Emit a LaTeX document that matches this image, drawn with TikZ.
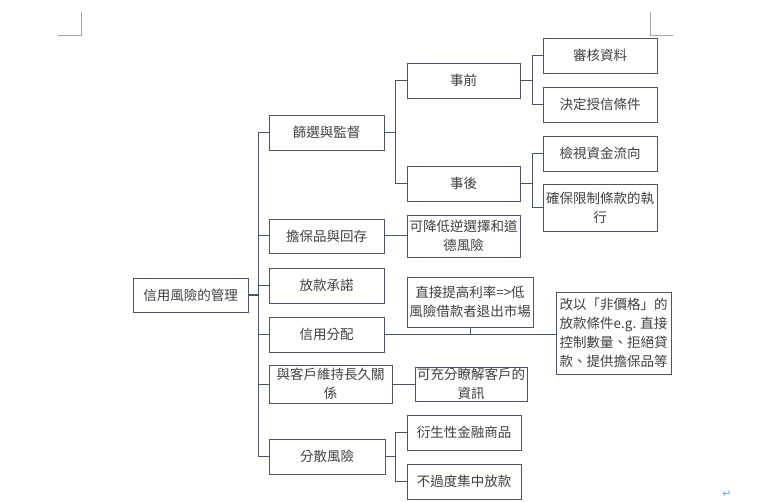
\documentclass[tikz,border=0pt]{standalone}
\usepackage{fontspec}
\setmainfont{Noto Sans CJK TC}
\newfontfamily\symfont{DejaVu Sans}
\definecolor{lineC}{HTML}{4B5567}
\definecolor{txtC}{HTML}{404040}
\definecolor{markC}{HTML}{A6A6A6}
\definecolor{retC}{HTML}{6FA8DC}
\tikzset{
  bx/.style={draw=lineC, line width=0.9bp, fill=white, inner sep=0pt, align=center,
             text=txtC, font=\fontsize{13.5bp}{19bp}\selectfont},
  conn/.style={draw=lineC, line width=1bp},
  pagemark/.style={draw=markC, line width=0.8bp}
}
\begin{document}
\begin{tikzpicture}[x=1bp,y=-1bp]
\useasboundingbox[fill=white] (0,0) rectangle (758,502);
% page corner marks
\draw[pagemark] (58,35) -- (81,35) -- (81,12);
\draw[pagemark] (650,12) -- (650,35) -- (673,35);
\node[text=retC, font=\symfont\fontsize{11bp}{11bp}\selectfont, inner sep=0pt] (ret) at (727,494) {↵};

% root
\node[bx, minimum width=115bp, minimum height=34bp] (root) at (190.5,295) {信用風險的管理};
% level 1
\node[bx, minimum width=115bp, minimum height=35bp] (sieve) at (326.5,132.5) {篩選與監督};
\node[bx, minimum width=115bp, minimum height=34bp] (coll) at (326.5,236) {擔保品與回存};
\node[bx, minimum width=115bp, minimum height=35bp] (commit) at (326.5,285.5) {放款承諾};
\node[bx, minimum width=115bp, minimum height=35bp] (ration) at (326.5,334.5) {信用分配};
\node[bx, minimum width=123bp, minimum height=38bp] (relat) at (330.5,384) {與客戶維持長久關\\係};
\node[bx, minimum width=116bp, minimum height=35bp] (divers) at (327,456.5) {分散風險};
% level 2
\node[bx, minimum width=113bp, minimum height=35bp] (before) at (463.5,80.5) {事前};
\node[bx, minimum width=113bp, minimum height=35bp] (after) at (463.5,183.5) {事後};
\node[bx, minimum width=113bp, minimum height=42bp] (reduce) at (463.5,236) {可降低逆選擇和道\\德風險};
\node[bx, minimum width=126bp, minimum height=50bp] (raise) at (470,302) {直接提高利率=>低\\風險借款者退出市場};
\node[bx, minimum width=115bp, minimum height=82bp] (nonprice) at (613.5,333) {改以「非價格」的\\放款條件e.g. 直接\\控制數量、拒絕貸\\款、提供擔保品等};
\node[bx, minimum width=112bp, minimum height=34bp] (know) at (471,384) {可充分瞭解客戶的\\資訊};
\node[bx, minimum width=114bp, minimum height=35bp] (deriv) at (464,432.5) {衍生性金融商品};
\node[bx, minimum width=114bp, minimum height=35bp] (noconc) at (464,481.5) {不過度集中放款};
% level 3
\node[bx, minimum width=114bp, minimum height=35bp] (audit) at (600,55.5) {審核資料};
\node[bx, minimum width=114bp, minimum height=35bp] (decide) at (600,104.5) {決定授信條件};
\node[bx, minimum width=114bp, minimum height=35bp] (check) at (600,153.5) {檢視資金流向};
\node[bx, minimum width=114bp, minimum height=47bp] (ensure) at (600,207.5) {確保限制條款的執\\行};

% junction x positions
\coordinate (t0) at (258,0);
\coordinate (t1) at (395,0);
\coordinate (t2) at (532,0);

% trunk
\draw[conn, line width=1.6bp] (root.east) -- (root.east -| t0);
\draw[conn] (sieve.west -| t0) -- (divers.west -| t0);
\foreach \n in {sieve,coll,commit,ration,relat,divers}
  \draw[conn] (\n.west -| t0) -- (\n.west);

% 篩選與監督
\draw[conn] (sieve.east) -- (sieve.east -| t1);
\draw[conn] (before.west -| t1) -- (after.west -| t1);
\draw[conn] (before.west -| t1) -- (before.west);
\draw[conn] (after.west -| t1) -- (after.west);
% 事前
\draw[conn] (before.east) -- (before.east -| t2);
\draw[conn] (audit.west -| t2) -- (decide.west -| t2);
\draw[conn] (audit.west -| t2) -- (audit.west);
\draw[conn] (decide.west -| t2) -- (decide.west);
% 事後
\draw[conn] (after.east) -- (after.east -| t2);
\draw[conn] (check.west -| t2) -- (ensure.west -| t2);
\draw[conn] (check.west -| t2) -- (check.west);
\draw[conn] (ensure.west -| t2) -- (ensure.west);
% 擔保品
\draw[conn] (coll.east) -- (reduce.west);
% 信用分配
\draw[conn] (ration.east) -- (ration.east -| nonprice.west);
\draw[conn] (raise.south) -- (raise.south |- ration.east);
% 與客戶
\draw[conn] (relat.east) -- (know.west);
% 分散風險
\draw[conn] (divers.east) -- (divers.east -| t1);
\draw[conn] (deriv.west -| t1) -- (noconc.west -| t1);
\draw[conn] (deriv.west -| t1) -- (deriv.west);
\draw[conn] (noconc.west -| t1) -- (noconc.west);
\end{tikzpicture}
\end{document}
